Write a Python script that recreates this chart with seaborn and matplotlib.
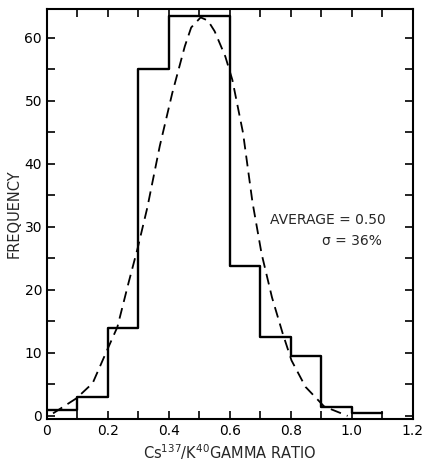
import numpy as np
import pandas as pd
import seaborn as sns
import matplotlib
matplotlib.use("Agg")
import matplotlib.pyplot as plt

# histogram of Cs137/K40 gamma ratio (bin edges and frequencies)
bin_edges = [0.0, 0.1, 0.2, 0.3, 0.4, 0.5, 0.6, 0.7, 0.8, 0.9, 1.0, 1.1]
frequency = [1.0, 3.0, 14.0, 55.0, 63.5, 63.5, 23.7, 12.5, 9.5, 1.4, 0.5]

# dashed fitted curve
curve_x = [0.02, 0.097, 0.150, 0.197, 0.231, 0.267, 0.298, 0.329, 0.370, 0.411,
           0.452, 0.473, 0.504, 0.528, 0.550, 0.585, 0.608, 0.643, 0.674, 0.704,
           0.738, 0.773, 0.802, 0.848, 0.909, 0.986]
curve_y = [0.4, 2.8, 5.2, 10.4, 14.1, 21.0, 26.7, 33.0, 42.8, 51.2,
           58.6, 61.6, 63.2, 62.7, 61.0, 57.0, 53.3, 44.9, 33.9, 25.7,
           18.8, 13.1, 8.8, 4.6, 1.5, 0.0]

x_ticks = [0, 0.2, 0.4, 0.6, 0.8, 1.0, 1.2]
x_tick_labels = ["0", "0.2", "0.4", "0.6", "0.8", "1.0", "1.2"]
y_ticks = [0, 10, 20, 30, 40, 50, 60]

sns.set_style("ticks")
plt.rcParams["font.family"] = ["DejaVu Sans"]

centers = [(a + b) / 2 for a, b in zip(bin_edges[:-1], bin_edges[1:])]
df = pd.DataFrame({"ratio": centers, "freq": frequency})
curve = pd.DataFrame({"ratio": curve_x, "freq": curve_y})

fig = plt.figure(figsize=(4.23, 4.61), dpi=100)
ax = fig.add_axes([0.111, 0.091, 0.865, 0.889])

sns.histplot(data=df, x="ratio", weights="freq", bins=bin_edges, element="step",
             fill=False, color="black", linewidth=1.7, ax=ax)
sns.lineplot(data=curve, x="ratio", y="freq", color="black", linewidth=1.3,
             dashes=False, ax=ax).lines[-1].set_dashes([6, 3.5])

ax.set_xlim(0, 1.2)
ax.set_ylim(-0.5, 64.5)
ax.set_xticks(x_ticks)
ax.set_xticklabels(x_tick_labels)
ax.set_xticks(np.arange(0, 1.21, 0.1), minor=True)
ax.set_yticks(y_ticks)
ax.set_yticks(np.arange(0, 65, 5), minor=True)
ax.tick_params(which="both", direction="in", top=True, right=True, width=1.2,
               colors="black", labelsize=10)
ax.tick_params(which="major", length=6)
ax.tick_params(which="minor", length=6)
for s in ax.spines.values():
    s.set_linewidth(1.5)
    s.set_color("black")

ax.set_xlabel("Cs$^{137}$/K$^{40}$GAMMA RATIO", fontsize=10.5, labelpad=3)
ax.set_ylabel("FREQUENCY", fontsize=10.5, labelpad=2)

ax.text(1.11, 31, "AVERAGE = 0.50", ha="right", va="center", fontsize=10)
ax.text(1.10, 27.8, "\u03c3 = 36%", ha="right", va="center", fontsize=10)

fig.savefig("out.png", dpi=100)
